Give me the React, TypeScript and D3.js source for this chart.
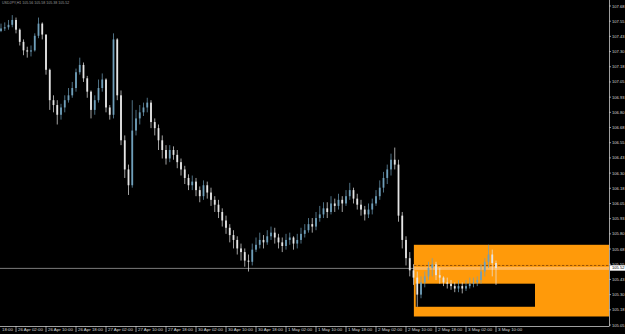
import React from 'react';
import * as d3 from 'd3';

// bar number (hourly, counted from 25 Apr 18:00) of the first visible candle
const firstBar = 4;
const firstOpen = 107.47;
const closes = [107.49, 107.50, 107.52, 107.56, 107.48, 107.38, 107.31, 107.30, 107.31, 107.43, 107.53, 107.44, 107.15, 106.90, 106.86, 106.78, 106.84, 106.90, 106.94, 107.00, 107.13, 107.19, 107.08, 106.97, 106.82, 106.90, 107.00, 107.07, 106.84, 106.78, 107.40, 106.94, 106.57, 106.33, 106.20, 106.65, 106.75, 106.80, 106.84, 106.88, 106.72, 106.67, 106.57, 106.49, 106.42, 106.49, 106.45, 106.39, 106.33, 106.26, 106.20, 106.23, 106.16, 106.11, 106.20, 106.14, 106.08, 106.04, 105.98, 105.91, 105.85, 105.79, 105.75, 105.68, 105.65, 105.58, 105.57, 105.67, 105.71, 105.75, 105.73, 105.78, 105.81, 105.77, 105.73, 105.70, 105.75, 105.77, 105.72, 105.75, 105.80, 105.83, 105.88, 105.86, 105.93, 105.96, 106.01, 105.98, 106.05, 106.03, 106.08, 106.05, 106.11, 106.16, 106.09, 106.04, 106.00, 105.96, 106.00, 106.05, 106.11, 106.18, 106.26, 106.33, 106.41, 106.37, 105.95, 105.75, 105.60, 105.50, 105.44, 105.30, 105.40, 105.45, 105.52, 105.55, 105.46, 105.44, 105.40, 105.39, 105.37, 105.35, 105.37, 105.35, 105.37, 105.39, 105.40, 105.42, 105.49, 105.57, 105.63, 105.56, 105.52];
const highs = [107.53, 107.54, 107.56, 107.60, 107.58, 107.49, 107.40, 107.34, 107.35, 107.45, 107.58, 107.54, 107.44, 107.16, 106.94, 106.90, 106.87, 106.94, 107.00, 107.05, 107.16, 107.25, 107.21, 107.10, 106.98, 106.94, 107.07, 107.12, 107.08, 106.86, 107.45, 107.41, 106.98, 106.61, 106.37, 106.90, 106.82, 106.86, 106.88, 106.92, 106.90, 106.75, 106.70, 106.61, 106.53, 106.53, 106.52, 106.49, 106.42, 106.36, 106.29, 106.28, 106.26, 106.19, 106.24, 106.23, 106.18, 106.11, 106.08, 106.01, 105.95, 105.88, 105.83, 105.78, 105.72, 105.68, 105.63, 105.72, 105.77, 105.81, 105.79, 105.83, 105.86, 105.85, 105.80, 105.77, 105.80, 105.81, 105.78, 105.80, 105.85, 105.88, 105.93, 105.93, 105.98, 106.03, 106.06, 106.06, 106.11, 106.09, 106.13, 106.11, 106.16, 106.22, 106.18, 106.13, 106.08, 106.03, 106.05, 106.09, 106.16, 106.24, 106.31, 106.37, 106.46, 106.51, 106.41, 105.98, 105.78, 105.65, 105.55, 105.49, 105.45, 105.49, 105.57, 105.60, 105.57, 105.52, 105.45, 105.44, 105.42, 105.40, 105.42, 105.40, 105.42, 105.44, 105.44, 105.45, 105.55, 105.60, 105.71, 105.67, 105.58];
const lows = [107.46, 107.47, 107.48, 107.50, 107.45, 107.35, 107.27, 107.25, 107.26, 107.30, 107.41, 107.40, 107.11, 106.82, 106.80, 106.70, 106.74, 106.80, 106.88, 106.92, 106.97, 107.11, 107.05, 106.92, 106.75, 106.78, 106.88, 106.97, 106.80, 106.74, 106.75, 106.90, 106.53, 106.26, 106.12, 106.18, 106.61, 106.70, 106.77, 106.80, 106.67, 106.61, 106.49, 106.42, 106.37, 106.39, 106.41, 106.34, 106.28, 106.21, 106.16, 106.16, 106.11, 106.06, 106.08, 106.09, 106.03, 105.98, 105.93, 105.86, 105.80, 105.73, 105.68, 105.63, 105.58, 105.53, 105.49, 105.54, 105.65, 105.68, 105.68, 105.71, 105.75, 105.72, 105.68, 105.65, 105.67, 105.71, 105.67, 105.68, 105.72, 105.77, 105.81, 105.81, 105.83, 105.90, 105.93, 105.93, 105.96, 105.98, 106.00, 105.98, 106.03, 106.08, 106.05, 106.00, 105.95, 105.91, 105.93, 105.96, 106.03, 106.08, 106.14, 106.21, 106.28, 106.33, 105.90, 105.68, 105.54, 105.45, 105.38, 105.20, 105.27, 105.36, 105.42, 105.45, 105.42, 105.39, 105.37, 105.35, 105.34, 105.32, 105.32, 105.31, 105.33, 105.35, 105.36, 105.37, 105.39, 105.45, 105.52, 105.45, 105.38];

// time labels, one every 8 hourly bars starting at bar 0 (the first is shown truncated, as in the reference)
const timeLabels = ['18:00', '26 Apr 02:00', '26 Apr 10:00', '26 Apr 18:00', '27 Apr 02:00', '27 Apr 10:00', '27 Apr 18:00', '30 Apr 02:00', '30 Apr 10:00', '30 Apr 18:00', '1 May 02:00', '1 May 10:00', '1 May 18:00', '2 May 02:00', '2 May 10:00', '2 May 18:00', '3 May 02:00', '3 May 10:00'];
const priceTicks = [105.05, 105.175, 105.3, 105.425, 105.55, 105.675, 105.8, 105.925, 106.05, 106.175, 106.3, 106.425, 106.55, 106.675, 106.8, 106.925, 107.05, 107.175, 107.3, 107.425, 107.55, 107.675];
const priceTickLabels = ['105.05', '105.18', '105.30', '105.43', '105.55', '105.68', '105.80', '105.93', '106.05', '106.18', '106.30', '106.43', '106.55', '106.68', '106.80', '106.93', '107.05', '107.18', '107.30', '107.43', '107.55', '107.68'];
const lastPrice = 105.52;
const dashedLevel = 105.54;
const zoneTop = 105.71;
const zoneBottom = 105.12;
const zoneStartBar = 114.1;
const boxTop = 105.39;
const boxBottom = 105.2;
const boxStartBar = 114.6;
const boxEndBar = 146.4;
const headerText = 'USDJPY,H1  105.56 105.58 105.38 105.52';

const W = 625;
const H = 334;
const plotRight = 609;
const plotBottom = 326;
const FONT = '"Liberation Sans", Arial, sans-serif';

export default function App() {
  const x = d3.scaleLinear().domain([0, 136]).range([-14, 496]);
  const y = d3.scaleLinear().domain([105.05, 107.675]).range([325, 6]);

  const bars = closes.map((c, i) => {
    const o = i === 0 ? firstOpen : closes[i - 1];
    return { t: firstBar + i, o, c, h: highs[i], l: lows[i] };
  });

  const upCol = '#6f9fba';
  const dnCol = '#e6e6e6';
  const bodyW = 1.8;

  return (
    <svg width={W} height={H} style={{ position: 'absolute', left: 0, top: 0, display: 'block', background: '#000' }}>
      <rect x={0} y={0} width={W} height={H} fill="#000" />
      <defs>
        <clipPath id="plot">
          <rect x={0} y={0} width={plotRight} height={plotBottom} />
        </clipPath>
      </defs>
      <text x={2} y={4} fontFamily={FONT} fontSize={3.6} fill="#9a9a9a">{headerText}</text>

      <g clipPath="url(#plot)">
        {/* orange zone */}
        <rect x={x(zoneStartBar)} y={y(zoneTop)} width={plotRight - x(zoneStartBar)} height={y(zoneBottom) - y(zoneTop)} fill="#ff9a0a" />
        <rect x={x(boxStartBar)} y={y(boxTop)} width={x(boxEndBar) - x(boxStartBar)} height={y(boxBottom) - y(boxTop)} fill="#000" />
        {/* price line */}
        <line x1={0} x2={x(zoneStartBar)} y1={y(lastPrice) + 0.5} y2={y(lastPrice) + 0.5} stroke="#8a8a8a" strokeWidth={0.9} />
        <rect x={x(zoneStartBar)} y={y(lastPrice) - 1} width={plotRight - x(zoneStartBar)} height={3} fill="#ffb657" />
        <line x1={x(zoneStartBar)} x2={plotRight} y1={y(dashedLevel)} y2={y(dashedLevel)} stroke="#7a3c00" strokeWidth={0.8} strokeDasharray="2.5,1.5" />

        {bars.map((b) => {
          const up = b.c >= b.o;
          const col = up ? upCol : dnCol;
          const cx = x(b.t);
          const top = y(Math.max(b.o, b.c));
          const bot = y(Math.min(b.o, b.c));
          return (
            <g key={b.t}>
              <line x1={cx} x2={cx} y1={y(b.h)} y2={y(b.l)} stroke={col} strokeWidth={0.7} />
              <rect x={cx - bodyW / 2} y={top} width={bodyW} height={Math.max(0.7, bot - top)} fill={col} />
            </g>
          );
        })}
      </g>

      {/* axes */}
      <line x1={plotRight + 0.5} x2={plotRight + 0.5} y1={0} y2={plotBottom} stroke="#c8c8c8" strokeWidth={0.8} />
      <line x1={0} x2={plotRight + 0.5} y1={plotBottom + 0.5} y2={plotBottom + 0.5} stroke="#c8c8c8" strokeWidth={0.8} />

      {priceTicks.map((p, i) => (
        <g key={p}>
          <line x1={plotRight} x2={plotRight + 2} y1={y(p)} y2={y(p)} stroke="#c8c8c8" strokeWidth={0.7} />
          <text x={plotRight + 3} y={y(p) + 1.5} fontFamily={FONT} fontSize={4.1} fill="#d8d8d8">{priceTickLabels[i]}</text>
        </g>
      ))}

      <rect x={plotRight + 1} y={y(lastPrice) - 2.6} width={W - plotRight - 1} height={5.4} fill="#ffffff" />
      <text x={plotRight + 3} y={y(lastPrice) + 1.6} fontFamily={FONT} fontSize={4.1} fill="#000">{lastPrice.toFixed(2)}</text>

      {timeLabels.map((lab, i) => {
        const tx = x(i * 8);
        return (
          <g key={lab}>
            {tx > 0 && <line x1={tx} x2={tx} y1={plotBottom} y2={plotBottom + 6} stroke="#c8c8c8" strokeWidth={0.7} />}
            <text x={Math.max(tx + 2, 2)} y={plotBottom + 5.4} fontFamily={FONT} fontSize={4.4} fill="#d8d8d8">{lab}</text>
          </g>
        );
      })}
    </svg>
  );
}
